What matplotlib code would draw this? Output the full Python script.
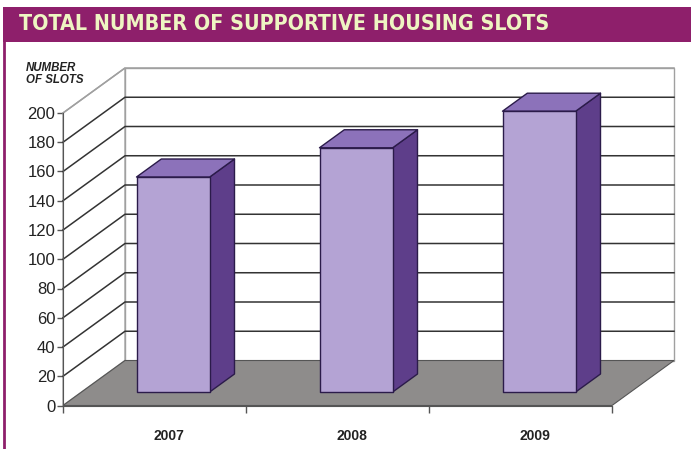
import matplotlib
matplotlib.use("Agg")
import matplotlib.pyplot as plt
from matplotlib.patches import Rectangle, Polygon
from matplotlib.lines import Line2D

# ---- data ----
years = ["2007", "2008", "2009"]
slots = [147, 167, 192]
y_ticks = [0, 20, 40, 60, 80, 100, 120, 140, 160, 180, 200]
title = "TOTAL NUMBER OF SUPPORTIVE HOUSING SLOTS"
y_label = "NUMBER\nOF SLOTS"

# ---- styles ----
BANNER = "#8E1F6B"
TITLE_C = "#EEF5C2"
FRONT = "#B4A3D4"
TOP = "#8C72BA"
SIDE = "#5E3E8A"
EDGE = "#2B1B4A"
FLOOR = "#8E8C8B"
GRID = "#333333"
WALL_EDGE = "#A0A0A0"

W, H = 691, 449
fig = plt.figure(figsize=(W / 100, H / 100), dpi=100)
fig.patch.set_facecolor("white")

# banner
fig.patches.append(Rectangle((3 / W, 1 - 42 / H), 1 - 3 / W, 35 / H,
                             transform=fig.transFigure, facecolor=BANNER,
                             edgecolor="none", zorder=0))
fig.lines.append(Line2D([4 / W, 4 / W], [0, 1 - 42 / H], transform=fig.transFigure,
                        color=BANNER, lw=2))
fig.text(19 / W, 1 - 24.5 / H, title, color=TITLE_C, fontsize=15.4, fontweight="bold",
         family="DejaVu Sans", fontstretch="condensed", va="center", ha="left")

# axes: front plane x in [0, 3] categories, y in [0, 200]
left_px, right_px, y0_px, y200_px = 63, 612, 405.5, 113
ax = fig.add_axes([left_px / W, 1 - y0_px / H, (right_px - left_px) / W,
                   (y0_px - y200_px) / H])
ax.set_xlim(0, 3)
ax.set_ylim(0, 200)
ax.patch.set_alpha(0)

px_per_cat = (right_px - left_px) / 3
px_per_val = (y0_px - y200_px) / 200
DX = 62 / px_per_cat      # depth offset in category units
DY = 45 / px_per_val      # depth offset in value units


def P(x, v, d):
    return (x + DX * d, v + DY * d)


ncat = len(years)
top = y_ticks[-1]

# back wall
ax.add_patch(Polygon([P(0, 0, 1), P(ncat, 0, 1), P(ncat, top, 1), P(0, top, 1)],
                     closed=True, facecolor="white", edgecolor=WALL_EDGE, lw=1,
                     clip_on=False, zorder=1))
# side wall
ax.add_patch(Polygon([P(0, 0, 0), P(0, 0, 1), P(0, top, 1), P(0, top, 0)],
                     closed=True, facecolor="white", edgecolor=WALL_EDGE, lw=1,
                     clip_on=False, zorder=1))
# floor
ax.add_patch(Polygon([P(0, 0, 0), P(ncat, 0, 0), P(ncat, 0, 1), P(0, 0, 1)],
                     closed=True, facecolor=FLOOR, edgecolor="#555555", lw=0.8,
                     clip_on=False, zorder=2))

# gridlines
for v in y_ticks[1:]:
    c = WALL_EDGE if v == top else GRID
    xs, ys = zip(P(0, v, 0), P(0, v, 1), P(ncat, v, 1))
    ax.plot(xs, ys, color=c, lw=1.1, clip_on=False, zorder=3)

# bars
bw0, bw1 = 0.30, 0.70
d0, d1 = 0.30, 0.70
for i, val in enumerate(slots):
    xl, xr = i + bw0, i + bw1
    side = [P(xr, 0, d0), P(xr, 0, d1), P(xr, val, d1), P(xr, val, d0)]
    topf = [P(xl, val, d0), P(xr, val, d0), P(xr, val, d1), P(xl, val, d1)]
    front = [P(xl, 0, d0), P(xr, 0, d0), P(xr, val, d0), P(xl, val, d0)]
    for pts, col in ((side, SIDE), (topf, TOP), (front, FRONT)):
        ax.add_patch(Polygon(pts, closed=True, facecolor=col, edgecolor=EDGE,
                             lw=1, joinstyle="round", clip_on=False, zorder=5))

# axis styling
for s in ("top", "right"):
    ax.spines[s].set_visible(False)
ax.spines["left"].set_color("#555555")
ax.spines["bottom"].set_color("#555555")
ax.spines["left"].set_zorder(6)
ax.spines["bottom"].set_zorder(6)
ax.set_yticks(y_ticks)
ax.set_yticklabels([str(v) for v in y_ticks], family="Liberation Sans", fontsize=12,
                   color="#222222")
ax.tick_params(axis="y", direction="out", length=4, width=1, color="#555555", pad=1.5)

ax.set_xticks(range(ncat + 1))
ax.set_xticklabels([])
ax.tick_params(axis="x", which="major", direction="out", length=5, width=1,
               color="#555555")
ax.set_xticks([i + 0.58 for i in range(ncat)], minor=True)
ax.set_xticklabels(years, minor=True, family="Liberation Sans", fontsize=10,
                   fontweight="bold", color="#222222")
ax.tick_params(axis="x", which="minor", length=0, pad=17)

fig.text(26 / W, 1 - 74 / H, y_label, fontsize=8.3, fontweight="bold",
         fontstyle="italic", family="Liberation Sans", color="#222222",
         va="center", ha="left", linespacing=1.1)

fig.savefig("out.png", dpi=100)
